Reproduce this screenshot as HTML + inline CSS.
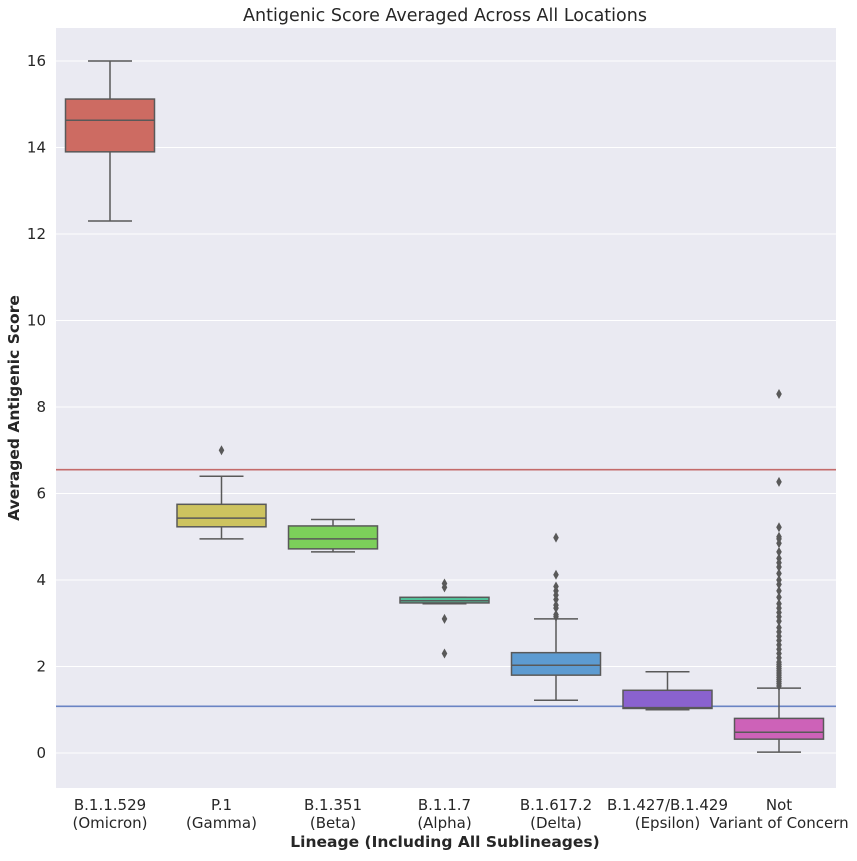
<!DOCTYPE html>
<html><head><meta charset="utf-8"><style>
body{margin:0;background:#fff;font-family:"Liberation Sans","DejaVu Sans",sans-serif}
svg text{font-family:"DejaVu Sans","Liberation Sans",sans-serif;fill:#262626}
</style></head><body>
<svg id="chart" width="857" height="856">
<rect x="56" y="28" width="780" height="760" fill="#eaeaf2"/>
<g id="grid"></g><g id="refs"></g><g id="boxes"></g><g id="ticks"></g>
<text x="445" y="21" text-anchor="middle" font-size="17.5">Antigenic Score Averaged Across All Locations</text>
<text x="445" y="847" text-anchor="middle" font-size="15.5" font-weight="bold">Lineage (Including All Sublineages)</text>
<text transform="translate(19,408) rotate(-90)" text-anchor="middle" font-size="15.5" font-weight="bold">Averaged Antigenic Score</text>
</svg>
<script>
const categories=["B.1.1.529|(Omicron)","P.1|(Gamma)","B.1.351|(Beta)","B.1.1.7|(Alpha)","B.1.617.2|(Delta)","B.1.427/B.1.429|(Epsilon)","Not|Variant of Concern"];
const whiskLow=[12.3,4.95,4.65,3.45,1.22,1.0,0.02];
const q1=[13.9,5.23,4.72,3.47,1.8,1.03,0.32];
const median=[14.63,5.43,4.95,3.52,2.03,1.05,0.48];
const q3=[15.12,5.75,5.25,3.6,2.32,1.45,0.8];
const whiskHigh=[16.0,6.4,5.4,3.6,3.1,1.88,1.5];
const outliers=[[],[7.0],[],[3.92,3.83,3.1,2.3],[3.15,3.2,3.35,3.42,3.55,3.65,3.75,3.85,4.12,4.98],
[1.55,1.6,1.65,1.7,1.75,1.8,1.85,1.9,1.95,2.0,2.05,2.1,2.2,2.3,2.4,2.5,2.6,2.7,2.8,2.9,3.05,3.15,3.25,3.35,3.45,3.6,3.75,3.9,4.0,4.15,4.3,4.4,4.5,4.65,4.85,4.95,5.0,5.22,6.27,8.3]];
outliers.splice(5,0,[]);outliers.length=7;
const colors=["#cd6b62","#cdc35f","#7ccf5a","#52c39c","#5d9bd1","#8a62cf","#cd62b8"];
const yTicks=[0,2,4,6,8,10,12,14,16];
const refValues=[6.55,1.08];const refColors=["#c46a6a","#6a84c4"];
const NS="http://www.w3.org/2000/svg";
const y=v=>753-v*43.25;
const x=i=>110+i*111.5;
function mk(p,t,a){const e=document.createElementNS(NS,t);for(const k in a)e.setAttribute(k,a[k]);document.getElementById(p).appendChild(e);return e;}
yTicks.forEach(t=>{
 const l=mk("grid","line",{x1:56,x2:836,y1:y(t),y2:y(t),stroke:"#fff","stroke-width":1});
 
 
 const tx=mk("ticks","text",{x:46,y:y(t)+5,"text-anchor":"end","font-size":15});
 tx.textContent=t;
 
 
});
refValues.forEach((v,i)=>{
 const l=mk("refs","line",{x1:56,x2:836,y1:y(v),y2:y(v),stroke:refColors[i],"stroke-width":1.6});
 
 
});
const g="#595959",hw=44.5,cw=22;
categories.forEach((c,i)=>{
 const cx=x(i);
 const w1=mk("boxes","line",{x1:cx,x2:cx,y1:y(whiskLow[i]),y2:y(q1[i]),stroke:g,"stroke-width":1.5});
 
 
 const w2=mk("boxes","line",{x1:cx,x2:cx,y1:y(q3[i]),y2:y(whiskHigh[i]),stroke:g,"stroke-width":1.5});
 
 
 [whiskLow[i],whiskHigh[i]].forEach(v=>{
  const cap=mk("boxes","line",{x1:cx-cw,x2:cx+cw,y1:y(v),y2:y(v),stroke:g,"stroke-width":1.5});
  
  
 });
 const b=mk("boxes","rect",{x:cx-hw,y:y(q3[i]),width:2*hw,height:y(q1[i])-y(q3[i]),fill:colors[i],stroke:g,"stroke-width":1.5});
 
 
 const m=mk("boxes","line",{x1:cx-hw,x2:cx+hw,y1:y(median[i]),y2:y(median[i]),stroke:g,"stroke-width":1.5});
 
 
 outliers[i].forEach(v=>{
  const d=mk("boxes","path",{d:`M${cx} ${y(v)-5}L${cx+2.8} ${y(v)}L${cx} ${y(v)+5}L${cx-2.8} ${y(v)}Z`,fill:g});
  
  
 });
 const parts=c.split("|");
 parts.forEach((p,k)=>{
  const t=mk("ticks","text",{x:cx,y:810+k*18,"text-anchor":"middle","font-size":15});
  t.textContent=p;
  
  
 });
});
</script>
</body></html>
